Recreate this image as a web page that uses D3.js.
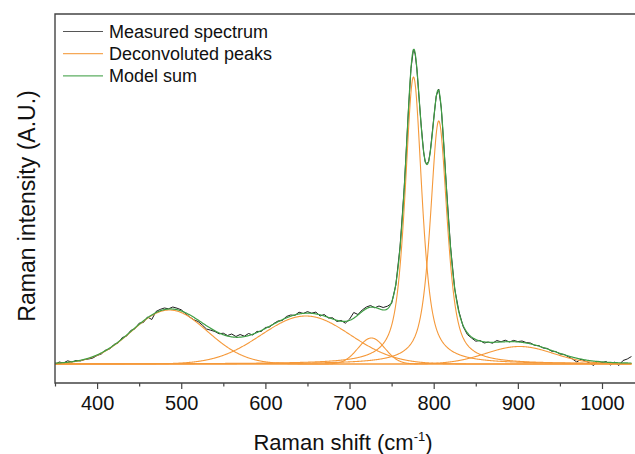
<!DOCTYPE html>
<html>
<head>
<meta charset="utf-8">
<script src="https://cdn.jsdelivr.net/npm/d3@7/dist/d3.min.js"></script>
<style>
  body { margin: 0; background: #fff; }
  text { font-family: "Liberation Sans", Arial, Helvetica, sans-serif; fill: #111; }
</style>
</head>
<body>
<div id="chart"></div>
<script>
/*=============================
==DATA ========================*/

// measured spectrum (arb. units)
var measuredShift = [350,355,360,365,370,375,380,385,390,395,400,405,410,415,420,425,430,435,440,445,
  450,455,460,465,470,475,480,485,490,495,500,505,510,515,520,525,530,535,540,545,
  550,555,560,565,570,575,580,585,590,595,600,605,610,615,620,625,630,635,640,645,
  650,655,660,665,670,675,680,685,690,695,700,705,710,715,720,725,730,735,740,745,
  750,755,760,765,770,773,776,778,780,785,788,790,792,794,796,800,803,806,809,812,
  815,820,825,830,835,840,845,850,855,860,865,870,875,880,885,890,895,900,905,910,
  915,920,925,930,935,940,945,950,955,960,965,970,975,980,985,990,995,1000,1005,1010,
  1015,1020,1025,1030,1035];
var measuredIntensity = [-5,20,10,32,20,35,30,44,50,60,85,100,138,150,195,210,265,278,335,352,
  408,415,470,445,525,546,560,552,570,558,542,505,470,442,425,390,350,338,325,302,
  308,285,300,275,295,278,305,290,326,325,365,370,405,430,435,475,490,486,518,505,
  524,508,519,480,495,460,462,425,436,408,448,515,495,540,570,585,562,580,565,578,
  605,790,1170,1765,2540,2955,3150,3100,2950,2400,2120,2015,2005,2025,2130,2450,2680,2750,2560,2190,
  1785,1175,750,525,375,295,260,228,235,210,219,208,235,222,238,220,236,224,230,214,
  210,186,184,160,156,128,125,100,96,72,50,20,48,30,12,-15,28,15,25,-10,
  18,-15,35,50,75];

// deconvoluted peaks (pseudo-Voigt: eta = Lorentzian fraction)
var peakCenter = [486, 648, 726, 776, 806, 902];
var peakHeight = [540, 480, 260, 2870, 2430, 175];
var peakHwhm   = [53.0, 62.4, 18.8, 12, 12, 47.1];
var peakEta    = [0, 0, 0, 0.7, 0.7, 0];

var xTicks = [400, 500, 600, 700, 800, 900, 1000];
var xMinorTicks = [350, 450, 550, 650, 750, 850, 950, 1050];

var legendLabels = ["Measured spectrum", "Deconvoluted peaks", "Model sum"];
var colors = { measured: "#1e1e1e", peak: "#f5993a", model: "#3f9f45", axis: "#444" };

/*=============================
===SVG ========================*/
var svgWidth = 635, svgHeight = 454;
var margin = { top: 14, left: 55, bottom: 71 };

var svg = d3.select("#chart")
  .append("svg")
  .attr("width", svgWidth)
  .attr("height", svgHeight);

var xScale = d3.scaleLinear().domain([350, 1000]).range([55, 602]);
var yScale = d3.scaleLinear().domain([-190, 3500]).range([383, 14]);

svg.append("clipPath").attr("id", "plotClip")
  .append("rect")
  .attr("x", margin.left).attr("y", margin.top)
  .attr("width", svgWidth - margin.left).attr("height", 383 - margin.top);

// pseudo-Voigt profile of peak i at shift v
function peakValue(i, v) {
  var u = (v - peakCenter[i]) / peakHwhm[i];
  var lor = 1 / (1 + u * u);
  var gau = Math.exp(-Math.LN2 * u * u);
  return peakHeight[i] * (peakEta[i] * lor + (1 - peakEta[i]) * gau);
}

var grid = d3.range(350, 1035.5, 0.5);
var line = d3.line()
  .x(d => xScale(d[0]))
  .y(d => yScale(d[1]));

var plot = svg.append("g").attr("clip-path", "url(#plotClip)");

// measured spectrum
var measured = measuredShift.map((s, i) => [s, measuredIntensity[i]]);
plot.append("path")
  .datum(measured)
  .attr("fill", "none")
  .attr("stroke", colors.measured)
  .attr("stroke-width", 1)
  .attr("d", line);

// deconvoluted peaks
plot.selectAll(".peak")
  .data(peakCenter.map((c, i) => grid.map(v => [v, peakValue(i, v)])))
  .enter()
  .append("path")
  .attr("class", "peak")
  .attr("fill", "none")
  .attr("stroke", colors.peak)
  .attr("stroke-width", 1.1)
  .attr("d", line);

// model sum
plot.append("path")
  .datum(grid.map(v => [v, d3.sum(peakCenter, (c, i) => peakValue(i, v))]))
  .attr("fill", "none")
  .attr("stroke", colors.model)
  .attr("stroke-width", 1.2)
  .attr("d", line);

/*=============================
===AXES =======================*/
var xAxis = d3.axisBottom(xScale)
  .tickValues(xTicks)
  .tickFormat(d3.format("d"))
  .tickSize(6)
  .tickSizeOuter(0)
  .tickPadding(7);

var xAxisG = svg.append("g")
  .attr("transform", "translate(0,383)")
  .call(xAxis);
xAxisG.select(".domain").remove();
xAxisG.selectAll(".tick line").attr("stroke", colors.axis).attr("stroke-width", 1.2);
xAxisG.selectAll(".tick text")
  .style("font-size", "20px")
  .attr("fill", "#111");

var xMinor = d3.axisBottom(xScale)
  .tickValues(xMinorTicks)
  .tickSize(3.5)
  .tickFormat("");
var xMinorG = svg.append("g")
  .attr("transform", "translate(0,383)")
  .call(xMinor);
xMinorG.select(".domain").remove();
xMinorG.selectAll(".tick line").attr("stroke", colors.axis).attr("stroke-width", 1.2);

// frame: bottom, left and top lines
svg.append("path")
  .attr("d", `M${svgWidth},${yScale(-190)}H${xScale(350)}V${yScale(3500)}H${svgWidth}`)
  .attr("fill", "none")
  .attr("stroke", colors.axis)
  .attr("stroke-width", 1.4);

// axis titles
var xTitle = svg.append("text")
  .attr("x", 343)
  .attr("y", 450)
  .attr("text-anchor", "middle")
  .style("font-size", "22px");
xTitle.append("tspan").text("Raman shift (cm");
xTitle.append("tspan").text("-1").attr("dy", -9).style("font-size", "13px");
xTitle.append("tspan").text(")").attr("dy", 9);

svg.append("text")
  .attr("transform", "translate(35,206) rotate(-90)")
  .attr("text-anchor", "middle")
  .style("font-size", "23px")
  .text("Raman intensity (A.U.)");

/*=============================
===LEGEND =====================*/
var legendColors = [colors.measured, colors.peak, colors.model];
var legend = svg.selectAll(".legend")
  .data(legendLabels)
  .enter()
  .append("g")
  .attr("class", "legend")
  .attr("transform", (d, i) => `translate(63,${31.5 + i * 22.2})`);

legend.append("line")
  .attr("x1", 0).attr("x2", 40)
  .attr("stroke", (d, i) => legendColors[i])
  .attr("stroke-opacity", (d, i) => i === 0 ? 0.75 : 0.85)
  .attr("stroke-width", 1.2);

legend.append("text")
  .attr("x", 46)
  .attr("y", 6)
  .style("font-size", "18px")
  .text(d => d);
</script>
</body>
</html>
